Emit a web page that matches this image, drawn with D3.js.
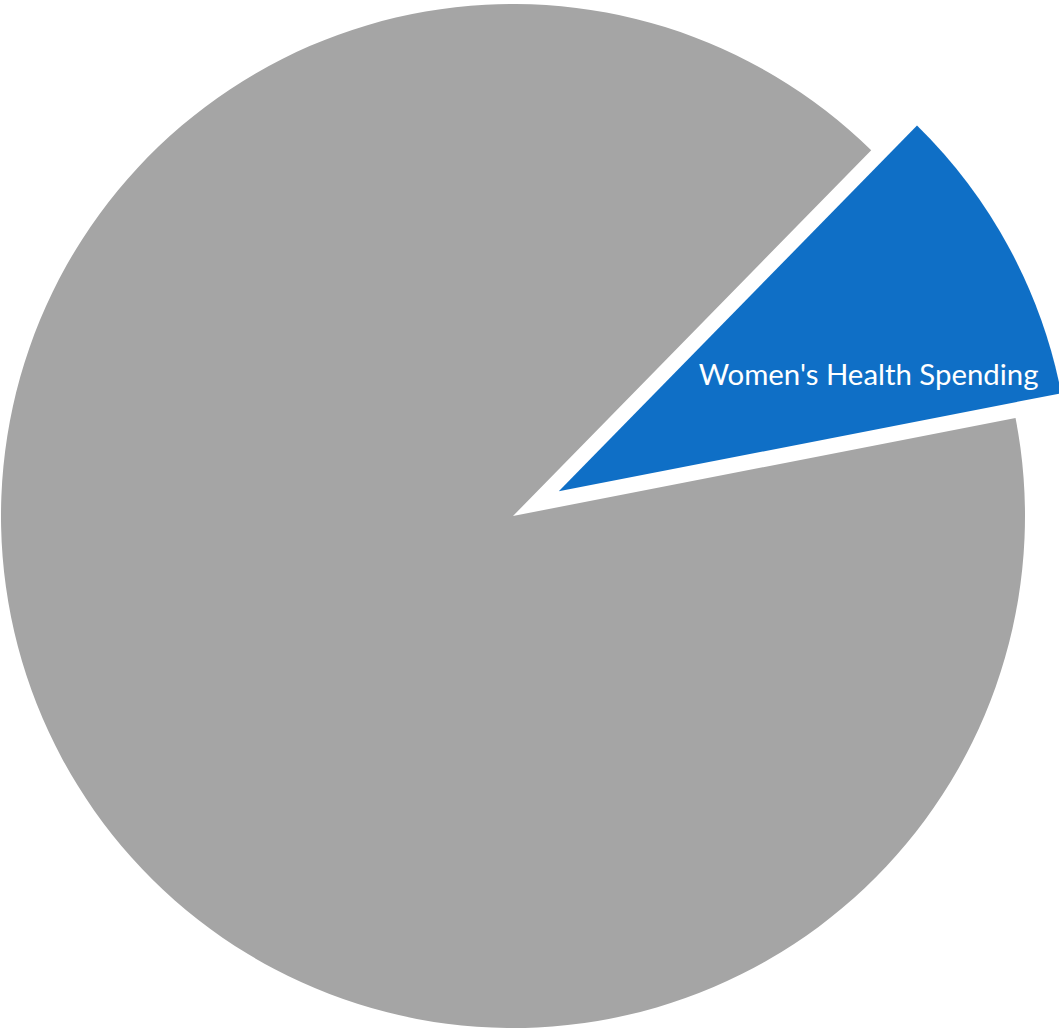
<!DOCTYPE html>
<html>
<head>
<meta charset="utf-8">
<script src="https://cdn.jsdelivr.net/npm/d3@7"></script>
<style>
  html, body { margin: 0; padding: 0; background: #ffffff; }
  svg { display: block; }
</style>
</head>
<body>
<div id="chart"></div>
<script>
// Share of health spending (percent)
const categories = ["Women's Health Spending", "Other Health Spending"];
const values = [9.6, 90.4];
const colors = ["#0F6FC6", "#A5A5A5"];
const labels = ["Women's Health Spending", ""];

const width = 1059, height = 1028;
const cx = 513, cy = 516, radius = 512;
const explode = 52;                    // offset of the highlighted slice
const startDeg = 44.4;                 // rotation of the first slice

const svg = d3.select("#chart").append("svg")
  .attr("width", width).attr("height", height);

const g = svg.append("g").attr("transform", `translate(${cx},${cy})`);

const start = startDeg * Math.PI / 180;
const pie = d3.pie().sort(null).value(d => d)
  .startAngle(start).endAngle(start + 2 * Math.PI);
const arcs = pie(values);
const arc = d3.arc().innerRadius(0).outerRadius(radius);

const slices = g.selectAll("g.slice").data(arcs).enter().append("g")
  .attr("class", "slice")
  .attr("transform", (d, i) => {
    if (i !== 0) return null;
    const mid = (d.startAngle + d.endAngle) / 2;
    return `translate(${explode * Math.sin(mid)},${-explode * Math.cos(mid)})`;
  });

slices.append("path")
  .attr("d", arc)
  .attr("fill", (d, i) => colors[i]);

// Label inside the highlighted slice, toward its lower edge
const lbl = slices.filter(d => labels[d.index] !== "")
  .append("text")
  .attr("text-anchor", "middle")
  .attr("fill", "#ffffff")
  .style("font-family", "Lato, 'Open Sans', sans-serif")
  .style("font-size", "28px")
  .text(d => labels[d.index]);

lbl.each(function(d) {
  const t = d3.select(this);
  const w = this.getComputedTextLength();
  t.style("font-size", (28 * 340 / w).toFixed(2) + "px");
  const a = d.startAngle + 0.77 * (d.endAngle - d.startAngle);
  const rr = radius * 0.64;
  t.attr("x", rr * Math.sin(a))
   .attr("y", -rr * Math.cos(a));
});
</script>
</body>
</html>
